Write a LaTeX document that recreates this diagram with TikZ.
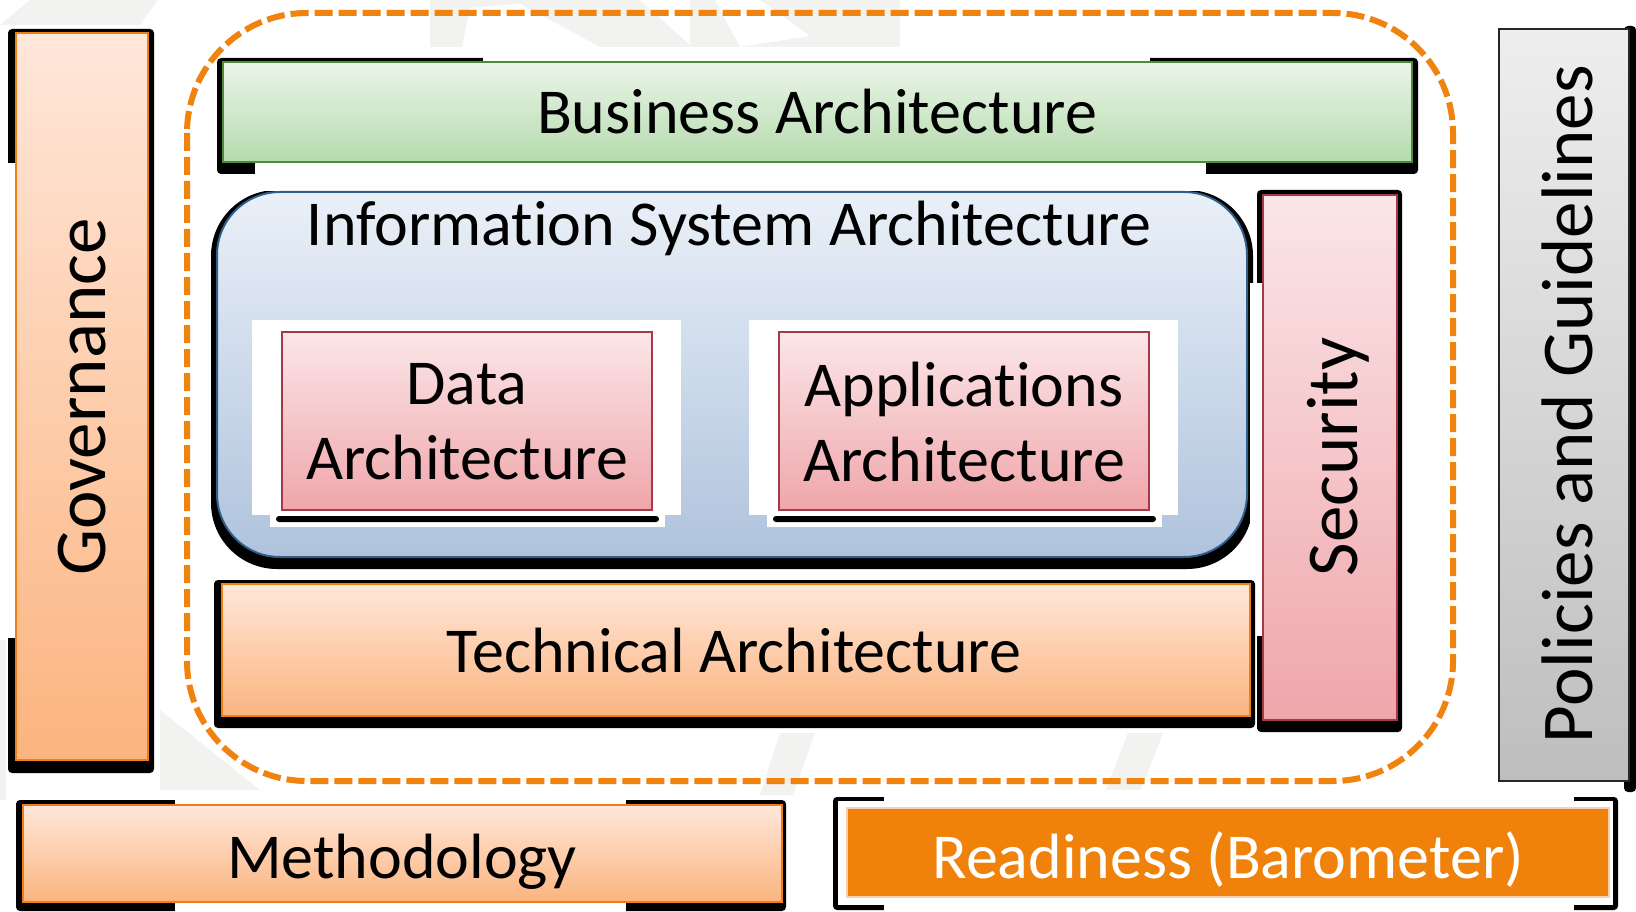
\documentclass[tikz,border=0pt]{standalone}
\usepackage{fontspec}
\setmainfont{Carlito}[RawFeature={-liga}]
\definecolor{orline}{HTML}{F0820E}
\definecolor{orborder}{HTML}{EE7F16}
\definecolor{ortop}{HTML}{FFE7DA}
\definecolor{orbot}{HTML}{FBB47F}
\definecolor{grborder}{HTML}{4F8A3C}
\definecolor{grtop}{HTML}{EBF5E8}
\definecolor{grbot}{HTML}{B5DBAE}
\definecolor{blborder}{HTML}{2F5F8A}
\definecolor{bltop}{HTML}{EAF0F8}
\definecolor{blbot}{HTML}{AFC3DD}
\definecolor{pkborder}{HTML}{A33B47}
\definecolor{pktop}{HTML}{FBE6E8}
\definecolor{pkbot}{HTML}{EFA6AB}
\definecolor{gytop}{HTML}{EEEEEE}
\definecolor{gybot}{HTML}{BEBEBE}
\definecolor{readyfill}{HTML}{F0820B}
\definecolor{readyedge}{HTML}{FAD0B0}
\definecolor{wmark}{HTML}{F2F2F0}
\begin{document}
\begin{tikzpicture}[x=1pt,y=-1pt,
  shadowc/.style={fill=black, rounded corners=4},
  orangebox/.style={draw=orborder, line width=2, top color=ortop, bottom color=orbot},
  greenbox/.style={draw=grborder, line width=2.5, top color=grtop, bottom color=grbot},
  bluebox/.style={draw=blborder, line width=2, top color=bltop, bottom color=blbot},
  pinkbox/.style={draw=pkborder, line width=2, top color=pktop, bottom color=pkbot},
  graybox/.style={draw=black!85, line width=2, top color=gytop, bottom color=gybot},
  readybox/.style={draw=readyedge, line width=1.2, fill=readyfill},
  dashline/.style={draw=orline, line width=6, dash pattern=on 18 off 6},
  htext/.style={font=\fontsize{64}{75}\selectfont, inner sep=0, align=center},
  vtext/.style={font=\fontsize{73}{80}\selectfont, inner sep=0, rotate=90}]
\useasboundingbox (0,0) rectangle (1636,912);
\fill[white] (0,0) rectangle (1636,912);
% faint watermark
\fill[wmark] (0,25) -- (30,0) -- (158,0) -- (140,25) -- cycle;
\fill[wmark] (430,0) -- (900,0) -- (900,47) -- (430,47) -- cycle;
\fill[white] (462,47) -- (470,8) -- (520,4) -- (600,47) -- cycle;
\fill[white] (715,0) -- (760,0) -- (810,36) -- (740,47) -- cycle;
\fill[white] (640,0) -- (690,0) -- (690,45) -- cycle;
\fill[wmark] (160,710) -- (260,790) -- (160,790) -- cycle;
\fill[wmark] (0,640) -- (6,640) -- (6,800) -- (0,800) -- cycle;
\fill[wmark] (780,733) -- (815,733) -- (793,795) -- (760,795) -- cycle;
\fill[wmark] (1128,733) -- (1163,733) -- (1140,792) -- (1105,792) -- cycle;
% Governance
\fill[shadowc] (8,29) rectangle (154,773);
\fill[white] (0,163) rectangle (16,638);
\path[orangebox] (16,33) rectangle (148,760);
\node[vtext] (gov) at (82,397) {Governance};
% Business Architecture
\fill[shadowc] (217,58) rectangle (1418,174);
\fill[white] (255,162) rectangle (1206,180);
\fill[white] (483,50) rectangle (1150,61);
\path[greenbox] (223,62) rectangle (1412,162);
\node[htext] (bus) at (817,112) {Business Architecture};
% Information System Architecture
\fill[shadowc, rounded corners=66] (211,190) rectangle (1253,569);
\fill[white] (255,182) rectangle (1205,191);
\path[bluebox, rounded corners=63] (217,192) rectangle (1247,557);
\node[htext] (isa) at (729,228) {Information System Architecture};
% Data Architecture
\fill[white] (252,320) rectangle (681,515);
\fill[white] (270,515) rectangle (665,527);
\fill[shadowc, rounded corners=3] (276,516) rectangle (659,522);
\path[pinkbox] (282,332) rectangle (652,510);
\node[htext] (data) at (467,422) {Data\\Architecture};
% Applications Architecture
\fill[white] (749,320) rectangle (1178,515);
\fill[white] (767,515) rectangle (1162,527);
\fill[shadowc, rounded corners=3] (773,516) rectangle (1156,522);
\path[pinkbox] (779,332) rectangle (1149,510);
\node[htext] (app) at (964,422) {Applications\\Architecture};
% Security
\fill[shadowc] (1257,190) rectangle (1402,732);
\fill[white] (1250,283) rectangle (1263,636);
\path[pinkbox] (1263,195) rectangle (1397,720);
\node[vtext] (sec) at (1338,457) {Security};
% Technical Architecture
\fill[shadowc] (214,580) rectangle (1255,728);
\path[orangebox] (222,584) rectangle (1250,716);
\node[htext] (tech) at (734,651) {Technical Architecture};
% Methodology
\fill[shadowc] (16,800) rectangle (786,911);
\fill[white] (175,790) rectangle (626,805);
\fill[white] (175,902) rectangle (626,912);
\path[orangebox] (23,805) rectangle (782,902);
\node[htext] (meth) at (402,862) {Methodology};
% Readiness
\fill[shadowc] (833,797) rectangle (1618,910);
\fill[white] (838,801) rectangle (1613,905);
\fill[white] (884,790) rectangle (1574,801);
\fill[white] (884,905) rectangle (1574,912);
\path[readybox] (847,808) rectangle (1609,897);
\node[htext, text=white] (ready) at (1228,860) {Readiness (Barometer)};
% Policies and Guidelines
\fill[shadowc] (1624,26) rectangle (1636,792);
\path[graybox] (1499,29) rectangle (1629,781);
\node[vtext] (pol) at (1567,404) {Policies and Guidelines};
% dashed frame
\draw[dashline, rounded corners=120] (187,13) rectangle (1453,781);
\end{tikzpicture}
\end{document}
